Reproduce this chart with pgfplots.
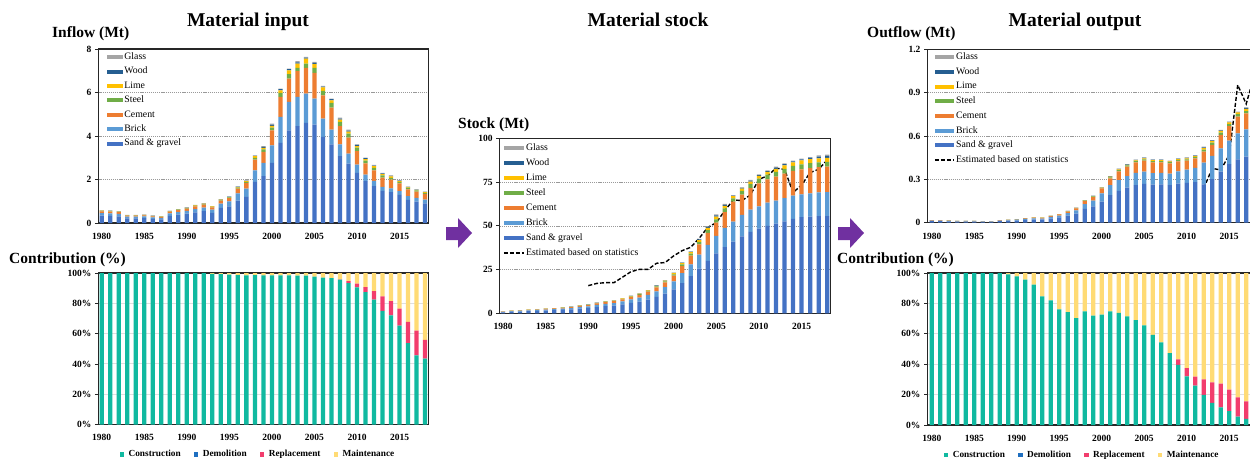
\documentclass[border=0pt]{standalone}
\usepackage{pgfplots}
\pgfplotsset{compat=1.18}
\usepackage{pgfplotstable}
\usepackage{fontspec}
\setmainfont{Liberation Serif}

\definecolor{csand}{HTML}{4472C4}
\definecolor{cbrick}{HTML}{5B9BD5}
\definecolor{ccement}{HTML}{ED7D31}
\definecolor{csteel}{HTML}{70AD47}
\definecolor{clime}{HTML}{FFC000}
\definecolor{cwood}{HTML}{255E91}
\definecolor{cglass}{HTML}{A5A5A5}
\definecolor{ccon}{HTML}{10B9A0}
\definecolor{cdem}{HTML}{1F6FC0}
\definecolor{crep}{HTML}{F23D6D}
\definecolor{cmai}{HTML}{FFDB75}
\definecolor{apurple}{HTML}{7030A0}

% legend swatches: colour, width
\newcommand\swatch[2]{\addlegendimage{legend image code/.code={\fill[#1] (0pt,-2pt) rectangle (#2,2pt);}}}
\newcommand\sq[1]{\addlegendimage{legend image code/.code={\fill[#1] (0pt,-2.3pt) rectangle (4.6pt,2.3pt);}}}
\newcommand\dashleg[1]{\addlegendimage{legend image code/.code={\draw[black, line width=1.4pt, dash pattern=on 4pt off 2pt] (0pt,0pt) -- (#1,0pt);}}}

% material flows (Mt): sand & gravel, brick, cement, steel, lime, wood, glass
\pgfplotstableread{
year sand brick cement steel lime wood glass
1980 0.34 0.11 0.08 0.02 0.015 0.01 0.005
1981 0.33 0.11 0.08 0.02 0.015 0.01 0.005
1982 0.31 0.11 0.075 0.02 0.01 0.01 0.005
1983 0.21 0.08 0.05 0.01 0.01 0.005 0.005
1984 0.21 0.08 0.05 0.01 0.01 0.005 0.005
1985 0.22 0.08 0.05 0.01 0.01 0.005 0.005
1986 0.19 0.07 0.05 0.01 0.01 0.005 0.005
1987 0.17 0.07 0.045 0.01 0.005 0.005 0.005
1988 0.33 0.11 0.08 0.015 0.01 0.01 0.005
1989 0.38 0.12 0.09 0.02 0.015 0.01 0.005
1990 0.43 0.13 0.10 0.025 0.015 0.01 0.01
1991 0.49 0.15 0.12 0.03 0.02 0.01 0.01
1992 0.55 0.16 0.13 0.03 0.02 0.01 0.01
1993 0.47 0.14 0.11 0.025 0.015 0.01 0.01
1994 0.70 0.19 0.14 0.03 0.02 0.01 0.01
1995 0.77 0.22 0.15 0.035 0.02 0.015 0.01
1996 1.03 0.33 0.22 0.045 0.03 0.015 0.01
1997 1.20 0.38 0.26 0.05 0.03 0.02 0.02
1998 1.89 0.53 0.49 0.09 0.07 0.02 0.02
1999 2.15 0.61 0.51 0.12 0.06 0.05 0.03
2000 2.76 0.81 0.69 0.13 0.07 0.06 0.05
2001 3.68 1.20 0.92 0.18 0.12 0.05 0.03
2002 4.26 1.31 1.07 0.20 0.18 0.05 0.03
2003 4.45 1.35 1.18 0.15 0.20 0.06 0.05
2004 4.60 1.35 1.18 0.20 0.23 0.04 0.04
2005 4.52 1.20 1.18 0.23 0.17 0.06 0.05
2006 3.96 0.84 1.07 0.20 0.16 0.04 0.03
2007 3.62 0.67 1.02 0.21 0.12 0.05 0.03
2008 3.07 0.55 0.83 0.20 0.10 0.05 0.05
2009 2.73 0.46 0.74 0.18 0.09 0.05 0.04
2010 2.30 0.38 0.63 0.16 0.07 0.05 0.03
2011 1.92 0.30 0.52 0.13 0.07 0.04 0.03
2012 1.70 0.24 0.48 0.12 0.07 0.03 0.03
2013 1.48 0.18 0.43 0.10 0.06 0.03 0.02
2014 1.42 0.17 0.40 0.09 0.06 0.03 0.02
2015 1.29 0.17 0.36 0.07 0.04 0.02 0.02
2016 1.06 0.18 0.31 0.06 0.03 0.02 0.01
2017 0.98 0.17 0.29 0.055 0.025 0.015 0.01
2018 0.90 0.17 0.27 0.05 0.025 0.015 0.01
}\inflow

\pgfplotstableread{
year sand brick cement steel lime wood glass
1980 0.59 0.20 0.14 0.03 0.025 0.01 0.005
1981 0.89 0.30 0.21 0.045 0.035 0.015 0.01
1982 1.00 0.34 0.24 0.05 0.04 0.02 0.01
1983 1.24 0.42 0.29 0.06 0.05 0.03 0.01
1984 1.36 0.46 0.32 0.07 0.05 0.03 0.01
1985 1.59 0.54 0.38 0.08 0.07 0.03 0.01
1986 1.77 0.60 0.42 0.09 0.08 0.03 0.01
1987 2.01 0.68 0.48 0.10 0.08 0.03 0.02
1988 2.24 0.76 0.53 0.11 0.10 0.04 0.02
1989 2.71 0.92 0.64 0.14 0.12 0.05 0.02
1990 3.01 1.02 0.71 0.15 0.13 0.05 0.03
1991 3.60 1.22 0.85 0.18 0.15 0.06 0.04
1992 4.07 1.38 0.97 0.21 0.17 0.07 0.03
1993 4.37 1.48 1.04 0.22 0.18 0.07 0.04
1994 5.07 1.72 1.20 0.26 0.22 0.09 0.04
1995 5.90 2.10 1.30 0.30 0.25 0.15 0.10
1996 6.70 2.30 1.60 0.35 0.28 0.10 0.07
1997 7.80 2.70 1.85 0.40 0.33 0.13 0.09
1998 9.40 3.20 2.25 0.48 0.40 0.16 0.11
1999 11.2 3.80 2.65 0.57 0.47 0.19 0.12
2000 13.7 4.60 3.20 0.80 0.60 0.20 0.10
2001 17.3 5.70 4.00 0.95 0.75 0.25 0.15
2002 21.2 6.80 4.90 1.15 0.90 0.30 0.15
2003 25.6 8.00 5.80 1.35 1.10 0.40 0.25
2004 30.0 9.10 6.80 1.60 1.30 0.55 0.35
2005 34.3 9.90 7.60 1.90 1.50 0.80 0.60
2006 37.8 11.0 9.00 2.10 1.50 0.60 0.50
2007 41.0 11.4 11.4 1.90 1.20 0.40 0.30
2008 44.0 12.2 11.6 2.20 1.20 0.50 0.30
2009 46.5 12.8 12.2 2.50 1.30 0.50 0.40
2010 48.4 12.7 13.2 2.70 1.50 0.50 0.40
2011 50.0 13.2 13.4 2.70 1.50 0.50 0.40
2012 51.2 13.2 13.7 2.70 1.70 0.80 0.50
2013 52.6 13.2 14.0 2.80 2.00 0.70 0.40
2014 53.9 13.3 14.2 2.80 2.10 0.50 0.40
2015 54.9 13.1 14.3 2.80 2.30 0.60 0.40
2016 55.2 13.4 14.4 2.80 2.30 0.80 0.40
2017 55.5 13.6 14.5 2.70 2.30 1.00 0.70
2018 55.6 13.7 14.5 2.70 2.30 1.10 0.80
}\stock

\pgfplotstableread{
year est
1990 15.8
1991 17.1
1992 17.5
1993 17.5
1994 20.6
1995 23.8
1996 25.1
1997 25.1
1998 28.6
1999 29.0
2000 32.8
2001 35.8
2002 37.7
2003 42.9
2004 49.1
2005 51.8
2006 58.7
2007 64.8
2008 64.4
2009 67.6
2010 76.6
2011 78.5
2012 82.9
2013 82.3
2014 69.0
2015 73.3
2016 80.4
2017 82.3
2018 87.6
}\stockest

\pgfplotstableread{
year sand brick cement steel lime wood glass
1980 0.0108 0.0040 0.0023 0.0004 0.0003 0.0002 0.0001
1981 0.0108 0.0040 0.0023 0.0004 0.0003 0.0002 0.0001
1982 0.0096 0.0035 0.0021 0.0003 0.0002 0.0002 0.0001
1983 0.0072 0.0026 0.0016 0.0002 0.0002 0.0001 0.0001
1984 0.0072 0.0026 0.0016 0.0002 0.0002 0.0001 0.0001
1985 0.0072 0.0026 0.0016 0.0002 0.0002 0.0001 0.0001
1986 0.0060 0.0022 0.0013 0.0002 0.0001 0.0001 0.0001
1987 0.0060 0.0022 0.0013 0.0002 0.0001 0.0001 0.0001
1988 0.0108 0.0040 0.0023 0.0004 0.0003 0.0002 0.0001
1989 0.0120 0.0044 0.0026 0.0004 0.0003 0.0002 0.0001
1990 0.0150 0.0055 0.0033 0.0005 0.0004 0.0002 0.0001
1991 0.0190 0.0070 0.0042 0.0008 0.0005 0.0003 0.0002
1992 0.0220 0.0081 0.0048 0.0009 0.0006 0.0004 0.0002
1993 0.0210 0.0077 0.0046 0.0008 0.0005 0.0003 0.0001
1994 0.0290 0.0105 0.0062 0.0010 0.0007 0.0004 0.0002
1995 0.0360 0.0130 0.0078 0.0014 0.0009 0.0006 0.0003
1996 0.0490 0.0180 0.0105 0.0017 0.0012 0.0008 0.0003
1997 0.0620 0.0230 0.0135 0.0023 0.0016 0.0010 0.0006
1998 0.0950 0.0330 0.0210 0.0035 0.0023 0.0015 0.0007
1999 0.1130 0.0390 0.0250 0.0045 0.0028 0.0017 0.0010
2000 0.145 0.058 0.035 0.003 0.002 0.001 0.001
2001 0.190 0.070 0.047 0.007 0.005 0.003 0.001
2002 0.220 0.075 0.060 0.009 0.005 0.003 0.002
2003 0.243 0.080 0.065 0.008 0.005 0.003 0.002
2004 0.260 0.085 0.072 0.009 0.005 0.003 0.002
2005 0.268 0.085 0.076 0.010 0.007 0.004 0.002
2006 0.263 0.080 0.075 0.009 0.006 0.003 0.002
2007 0.265 0.080 0.073 0.009 0.006 0.003 0.002
2008 0.260 0.080 0.070 0.009 0.005 0.003 0.002
2009 0.270 0.085 0.070 0.009 0.006 0.003 0.002
2010 0.275 0.092 0.062 0.010 0.006 0.004 0.003
2011 0.280 0.100 0.065 0.010 0.006 0.004 0.003
2012 0.265 0.150 0.077 0.014 0.010 0.006 0.004
2013 0.302 0.160 0.076 0.016 0.011 0.004 0.003
2014 0.353 0.162 0.092 0.016 0.012 0.004 0.003
2015 0.406 0.162 0.101 0.014 0.012 0.002 0.002
2016 0.438 0.180 0.116 0.018 0.012 0.002 0.002
2017 0.457 0.189 0.111 0.016 0.014 0.007 0.004
2018 0.470 0.200 0.115 0.018 0.015 0.007 0.005
}\outflow

\pgfplotstableread{
year est
2012 0.238
2013 0.376
2014 0.365
2015 0.469
2016 0.953
2017 0.822
2018 1.030
}\outest

% contribution (%): construction, demolition, replacement, maintenance
\pgfplotstableread{
year con dem rep mai
1980 100 0 0 0
1981 100 0 0 0
1982 100 0 0 0
1983 100 0 0 0
1984 100 0 0 0
1985 100 0 0 0
1986 100 0 0 0
1987 100 0 0 0
1988 100 0 0 0
1989 100 0 0 0
1990 100 0 0 0
1991 100 0 0 0
1992 100 0 0 0
1993 99.5 0 0 0.5
1994 99.3 0 0 0.7
1995 99.0 0 0 1.0
1996 98.6 0 0 1.4
1997 98.5 0 0 1.5
1998 98.6 0 0 1.4
1999 98.5 0 0 1.5
2000 98.5 0 0 1.5
2001 98.5 0 0 1.5
2002 98.4 0 0 1.6
2003 98.3 0 0 1.7
2004 98.2 0 0 1.8
2005 97.6 0 0 2.4
2006 97.0 0 0 3.0
2007 96.6 0 0 3.4
2008 95.6 0 0.2 4.2
2009 93.3 0 1.4 5.3
2010 90.5 0 2.5 7.0
2011 87.4 0 3.3 9.3
2012 82.5 0 5.5 12.0
2013 75.0 0 9.5 15.5
2014 72.0 0 9.4 18.6
2015 65.3 0 11.2 23.5
2016 53.7 0 14.0 32.3
2017 45.6 0 16.4 38.0
2018 43.5 0 12.3 44.2
}\incontrib

\pgfplotstableread{
year con dem rep mai
1980 100 0 0 0
1981 100 0 0 0
1982 100 0 0 0
1983 100 0 0 0
1984 100 0 0 0
1985 100 0 0 0
1986 100 0 0 0
1987 100 0 0 0
1988 100 0 0 0
1989 99.1 0 0 0.9
1990 97.8 0 0 2.2
1991 95.6 0 0 4.4
1992 92.3 0 0 7.7
1993 84.6 0 0 15.4
1994 82.0 0 0 18.0
1995 76.0 0 0 24.0
1996 74.3 0 0 25.7
1997 70.3 0 0 29.7
1998 74.7 0 0 25.3
1999 72.0 0 0 28.0
2000 72.7 0 0 27.3
2001 74.7 0 0 25.3
2002 73.8 0 0 26.2
2003 71.4 0 0 28.6
2004 69.0 0 0 31.0
2005 65.5 0 0 34.5
2006 59.3 0 0 40.7
2007 54.3 0 0 45.7
2008 47.3 0 0 52.7
2009 39.6 0 3.5 56.9
2010 32.0 0 5.4 62.6
2011 25.9 0 6.0 68.1
2012 19.8 0 10.3 69.9
2013 14.5 0 13.6 71.9
2014 11.6 0 15.7 72.7
2015 9.2 0 14.1 76.7
2016 5.5 0 12.7 81.8
2017 4.0 0 11.6 84.4
2018 3.0 0 10.5 86.5
}\outcontrib

\pgfplotsset{
  panel/.style={
    scale only axis, anchor=south west,
    ybar stacked, bar width=0.5,
    xmin=1979.6, xmax=2018.4, ymin=0,
    xtick={1980,1985,...,2015},
    xticklabels={1980,1985,1990,1995,2000,2005,2010,2015},
    tick label style={font=\bfseries\fontsize{9.5}{11}\selectfont},
    /pgf/number format/assume math mode=true,
    x tick label style={yshift=-3pt},
    xtick style={draw=none},
    ytick pos=left,
    ytick style={draw=black!85, line width=0.8pt},
    tick align=outside, major tick length=3.5pt,
    ymajorgrids,
    axis line style={black!85, line width=1.2pt},
    every axis plot/.append style={draw=none},
  },
  flowgrid/.style={major grid style={gray!80, dash pattern=on 1.2pt off 0.9pt, line width=0.6pt}},
  pctgrid/.style={major grid style={gray!25, line width=0.9pt},
    ymax=100, ytick={0,20,...,100},
    yticklabels={0\%,20\%,40\%,60\%,80\%,100\%},
    legend columns=4,
    legend style={draw=none, fill=none, inner sep=0pt, anchor=west,
      font=\bfseries\fontsize{9.3}{11}\selectfont,
      /tikz/every odd column/.append style={column sep=2.5pt},
      /tikz/every even column/.append style={column sep=11pt}}},
  topleg/.style n args={3}{legend cell align=left,
    legend style={at={(0,1)}, anchor=north west, xshift=#1, yshift=#2,
      draw=none, fill=none, inner sep=0pt, row sep=#3, column sep=1.5pt,
      font=\fontsize{9.8}{11}\selectfont,
      nodes={inner sep=0pt, text height=7pt, text depth=2.5pt}}},
  estline/.style={sharp plot, stack plots=false, draw=black, line width=1.4pt,
    dash pattern=on 4pt off 2pt},
}

\begin{document}
\begin{tikzpicture}

% titles
\node[anchor=base, font=\bfseries\fontsize{19.5}{22}\selectfont] at (248pt,-26.5pt) {Material input};
\node[anchor=base, font=\bfseries\fontsize{19.5}{22}\selectfont] at (648pt,-26.5pt) {Material stock};
\node[anchor=base, font=\bfseries\fontsize{19.5}{22}\selectfont] at (1075pt,-26.5pt) {Material output};
\node[anchor=base west, inner sep=0pt, font=\bfseries\fontsize{15.5}{18}\selectfont] at (52pt,-38pt) {Inflow (Mt)};
\node[anchor=base west, inner sep=0pt, font=\bfseries\fontsize{15.5}{18}\selectfont] at (458pt,-128pt) {Stock (Mt)};
\node[anchor=base west, inner sep=0pt, font=\bfseries\fontsize{15.5}{18}\selectfont] at (867pt,-38pt) {Outflow (Mt)};
\node[anchor=base west, inner sep=0pt, font=\bfseries\fontsize{15.5}{18}\selectfont] at (9pt,-263.5pt) {Contribution (\%)};
\node[anchor=base west, inner sep=0pt, font=\bfseries\fontsize{15.5}{18}\selectfont] at (837pt,-263.5pt) {Contribution (\%)};

% arrows
\fill[apurple] (446pt,-227pt) -- (458pt,-227pt) -- (458pt,-218pt) -- (472pt,-233pt)
  -- (458pt,-248pt) -- (458pt,-240pt) -- (446pt,-240pt) -- cycle;
\fill[apurple] (838pt,-227pt) -- (850pt,-227pt) -- (850pt,-218pt) -- (864pt,-233pt)
  -- (850pt,-248pt) -- (850pt,-240pt) -- (838pt,-240pt) -- cycle;

% ---- material input
\begin{axis}[panel, flowgrid, at={(98.3pt,-223pt)}, width=329.8pt, height=174pt,
  ymax=8, ytick={0,2,4,6,8}, topleg={8.4pt}{-3.3pt}{4.9pt}]
\swatch{cglass}{16pt}\addlegendentry{Glass}
\swatch{cwood}{16pt}\addlegendentry{Wood}
\swatch{clime}{16pt}\addlegendentry{Lime}
\swatch{csteel}{16pt}\addlegendentry{Steel}
\swatch{ccement}{16pt}\addlegendentry{Cement}
\swatch{cbrick}{16pt}\addlegendentry{Brick}
\swatch{csand}{16pt}\addlegendentry{Sand \& gravel}
\addplot[fill=csand] table[x=year,y=sand]{\inflow};
\addplot[fill=cbrick] table[x=year,y=brick]{\inflow};
\addplot[fill=ccement] table[x=year,y=cement]{\inflow};
\addplot[fill=csteel] table[x=year,y=steel]{\inflow};
\addplot[fill=clime] table[x=year,y=lime]{\inflow};
\addplot[fill=cwood] table[x=year,y=wood]{\inflow};
\addplot[fill=cglass] table[x=year,y=glass]{\inflow};
\end{axis}

% ---- input contribution
\begin{axis}[panel, pctgrid, at={(98.3pt,-424.5pt)}, width=329.8pt, height=151.5pt,
  legend style={at={(0,0)}, xshift=21pt, yshift=-30pt}]
\sq{ccon}\addlegendentry{Construction}
\sq{cdem}\addlegendentry{Demolition}
\sq{crep}\addlegendentry{Replacement}
\sq{cmai}\addlegendentry{Maintenance}
\addplot[fill=ccon] table[x=year,y=con]{\incontrib};
\addplot[fill=cdem] table[x=year,y=dem]{\incontrib};
\addplot[fill=crep] table[x=year,y=rep]{\incontrib};
\addplot[fill=cmai] table[x=year,y=mai]{\incontrib};
\end{axis}

% ---- material stock
\begin{axis}[panel, flowgrid, at={(499.6pt,-313.3pt)}, width=331pt, height=175pt,
  ymax=100, ytick={0,25,50,75,100}, topleg={3.4pt}{-4.7pt}{5.5pt}]
\swatch{cglass}{20pt}\addlegendentry{Glass}
\swatch{cwood}{20pt}\addlegendentry{Wood}
\swatch{clime}{20pt}\addlegendentry{Lime}
\swatch{csteel}{20pt}\addlegendentry{Steel}
\swatch{ccement}{20pt}\addlegendentry{Cement}
\swatch{cbrick}{20pt}\addlegendentry{Brick}
\swatch{csand}{20pt}\addlegendentry{Sand \& gravel}
\dashleg{20pt}\addlegendentry{Estimated based on statistics}
\addplot[fill=csand] table[x=year,y=sand]{\stock};
\addplot[fill=cbrick] table[x=year,y=brick]{\stock};
\addplot[fill=ccement] table[x=year,y=cement]{\stock};
\addplot[fill=csteel] table[x=year,y=steel]{\stock};
\addplot[fill=clime] table[x=year,y=lime]{\stock};
\addplot[fill=cwood] table[x=year,y=wood]{\stock};
\addplot[fill=cglass] table[x=year,y=glass]{\stock};
\addplot[estline] table[x=year,y=est]{\stockest};
\end{axis}

% ---- material output
\begin{axis}[panel, flowgrid, at={(927.5pt,-222.7pt)}, width=330.6pt, height=173.4pt,
  xmin=1979.5, ymax=1.2, ytick={0,0.3,0.6,0.9,1.2}, yticklabels={0,0.3,0.6,0.9,1.2},
  topleg={6.5pt}{-3pt}{5.2pt}]
\swatch{cglass}{19pt}\addlegendentry{Glass}
\swatch{cwood}{19pt}\addlegendentry{Wood}
\swatch{clime}{19pt}\addlegendentry{Lime}
\swatch{csteel}{19pt}\addlegendentry{Steel}
\swatch{ccement}{19pt}\addlegendentry{Cement}
\swatch{cbrick}{19pt}\addlegendentry{Brick}
\swatch{csand}{19pt}\addlegendentry{Sand \& gravel}
\dashleg{19pt}\addlegendentry{Estimated based on statistics}
\addplot[fill=csand] table[x=year,y=sand]{\outflow};
\addplot[fill=cbrick] table[x=year,y=brick]{\outflow};
\addplot[fill=ccement] table[x=year,y=cement]{\outflow};
\addplot[fill=csteel] table[x=year,y=steel]{\outflow};
\addplot[fill=clime] table[x=year,y=lime]{\outflow};
\addplot[fill=cwood] table[x=year,y=wood]{\outflow};
\addplot[fill=cglass] table[x=year,y=glass]{\outflow};
\addplot[estline] table[x=year,y=est]{\outest};
\end{axis}

% ---- output contribution
\begin{axis}[panel, pctgrid, at={(927.5pt,-425pt)}, width=330.6pt, height=152pt,
  xmin=1979.5, legend style={at={(0,0)}, xshift=16pt, yshift=-30pt}]
\sq{ccon}\addlegendentry{Construction}
\sq{cdem}\addlegendentry{Demolition}
\sq{crep}\addlegendentry{Replacement}
\sq{cmai}\addlegendentry{Maintenance}
\addplot[fill=ccon] table[x=year,y=con]{\outcontrib};
\addplot[fill=cdem] table[x=year,y=dem]{\outcontrib};
\addplot[fill=crep] table[x=year,y=rep]{\outcontrib};
\addplot[fill=cmai] table[x=year,y=mai]{\outcontrib};
\end{axis}

\pgfresetboundingbox
\path[use as bounding box] (0pt,0pt) rectangle (1250pt,-460pt);
\end{tikzpicture}
\end{document}
